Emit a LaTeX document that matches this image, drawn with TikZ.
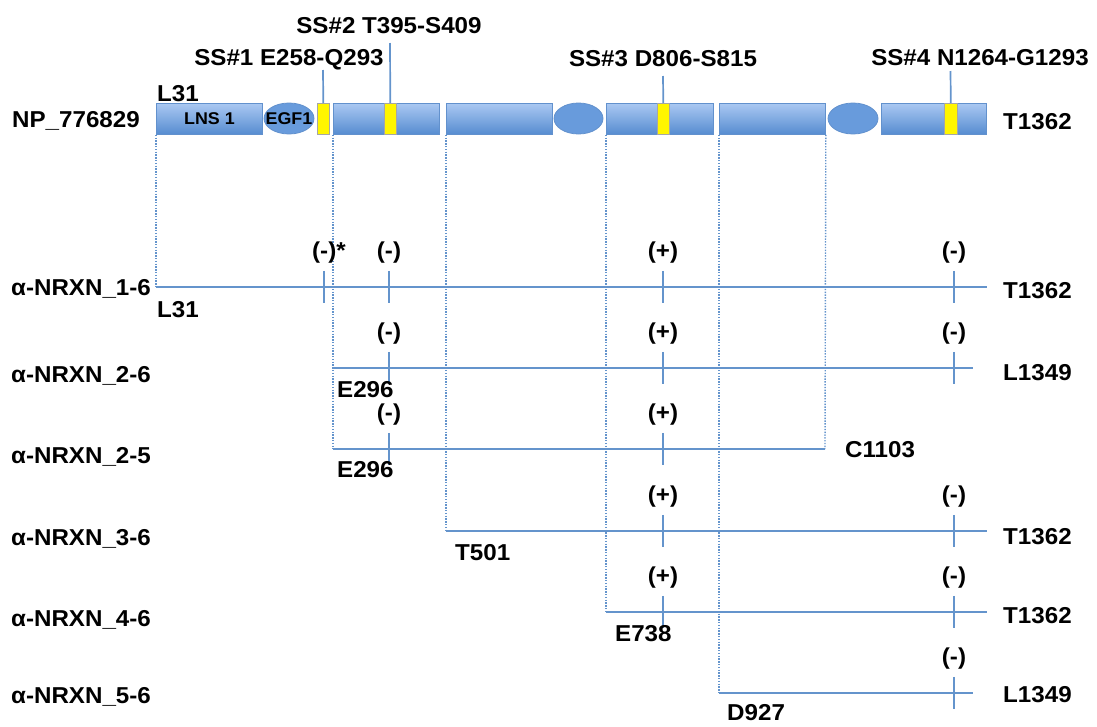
\documentclass[tikz,border=0pt]{standalone}
\usepackage{fontspec}
\setmainfont{Liberation Sans}[FakeStretch=1.05]
\usetikzlibrary{shapes.geometric}
\definecolor{domtop}{RGB}{170,200,242}
\definecolor{dombot}{RGB}{86,140,208}
\definecolor{domedge}{RGB}{98,145,205}
\definecolor{ovalfill}{RGB}{104,155,220}
\definecolor{trackblue}{RGB}{100,148,204}
\definecolor{ssyellow}{RGB}{255,246,0}
\newcommand\lblfont{\fontsize{23}{27}\selectfont\bfseries}
\newcommand\smlfont{\fontsize{17}{20}\selectfont\bfseries}
\begin{document}
\begin{tikzpicture}[x=1pt,y=-1pt,
  dom/.style={draw=domedge, line width=0.8pt, top color=domtop, bottom color=dombot,
              inner sep=0pt, minimum height=31pt, anchor=north west, font=\smlfont},
  oval/.style={ellipse, draw=domedge, line width=0.8pt, fill=ovalfill,
               inner sep=0pt, minimum width=50pt, minimum height=31pt},
  ssbox/.style={draw=black!35, line width=0.6pt, fill=ssyellow, inner sep=0pt,
                minimum height=31pt, anchor=north west},
  lbl/.style={font=\lblfont, inner sep=0pt, anchor=base west},
  sslbl/.style={font=\lblfont, inner sep=0pt, anchor=base},
  sign/.style={font=\lblfont, inner sep=0pt, anchor=base},
  inner/.style={font=\smlfont, inner sep=0pt},
  track/.style={draw=trackblue, line width=2.1pt},
  pin/.style={draw=trackblue, line width=1.7pt},
  guide/.style={draw=trackblue, line width=1.4pt, dash pattern=on 1.4pt off 1.4pt},
  splice/.style={minimum height=32pt, minimum width=0pt, inner sep=0pt}]
\useasboundingbox (0,0) rectangle (1097,726);

% ---- protein NP_776829: domains ----
\node[dom, minimum width=106pt] (b1) at (156,103) {LNS 1};
\node[oval] (e1) at (289,118.5) {};
\node[inner] (e1t) at (e1.center) {EGF1};
\node[ssbox, minimum width=12pt] (y1) at (317,103) {};
\node[dom, minimum width=106pt] (b2) at (333,103) {};
\node[ssbox, minimum width=12pt] (y2) at (384,103) {};
\node[dom, minimum width=106pt] (b3) at (446,103) {};
\node[oval, minimum width=49pt] (e2) at (578.5,118.5) {};
\node[dom, minimum width=107pt] (b4) at (606,103) {};
\node[ssbox, minimum width=12pt] (y3) at (657,103) {};
\node[dom, minimum width=106pt] (b5) at (719,103) {};
\node[oval] (e3) at (853,118.5) {};
\node[dom, minimum width=105pt] (b6) at (881,103) {};
\node[ssbox, minimum width=13pt] (y4) at (944,103) {};

\node[lbl] (np) at (12,127) {NP\_776829};
\node[lbl] (nps) at (157,101) {L31};
\node[lbl] (npe) at (1003,129) {T1362};

% splice sites
\node[sslbl] (ss1) at (289,65) {SS\#1 E258-Q293};
\node[sslbl] (ss2) at (389,33) {SS\#2 T395-S409};
\node[sslbl] (ss3) at (663,66) {SS\#3 D806-S815};
\node[sslbl] (ss4) at (980,65) {SS\#4 N1264-G1293};
\coordinate (p1) at (323,70);
\coordinate (p2) at (390,43);
\coordinate (p3) at (663,76);
\coordinate (p4) at (950.5,71);
\draw[pin] (y1.north) -- (p1);
\draw[pin] (y2.north) -- (p2);
\draw[pin] (y3.north) -- (p3);
\draw[pin] (y4.north) -- (p4);

% ---- isoforms ----
\coordinate (r1s) at (156,287); \coordinate (r1e) at (987,287);
\coordinate (r2s) at (333,368); \coordinate (r2e) at (973,368);
\coordinate (r3s) at (333,449); \coordinate (r3e) at (825,449);
\coordinate (r4s) at (446,531); \coordinate (r4e) at (987,531);
\coordinate (r5s) at (606,612); \coordinate (r5e) at (987,612);
\coordinate (r6s) at (719,693); \coordinate (r6e) at (973,693);

% dotted guides from domain boundaries
\draw[guide] (b1.south west) -- (r1s);
\draw[guide] (b2.south west) -- (r3s);
\draw[guide] (b3.south west) -- (r4s);
\draw[guide] (b4.south west) -- (r5s);
\draw[guide] (b5.south west) -- (r6s);
\draw[guide] (b5.south east) -- (r3e);

\foreach \i in {1,...,6} { \draw[track] (r\i s) -- (r\i e); }

% splice-site ticks
\foreach \n/\x/\y in {k11/324/287, k12/389/287, k13/663/287, k14/954/287,
                      k22/389/368, k23/663/368, k24/954/368,
                      k32/389/449, k33/663/449,
                      k43/663/531, k44/954/531,
                      k53/663/612, k54/954/612,
                      k64/954/693} {
  \node[splice] (\n) at (\x,\y) {};
  \draw[track] (\n.north) -- (\n.south);
}

% insert present / absent
\node[lbl] (s11) at (312,258) {(-)*};
\node[sign] (s12) at (389,258) {(-)};
\node[sign] (s13) at (663,258) {(+)};
\node[sign] (s14) at (954,258) {(-)};
\node[sign] (s22) at (389,339) {(-)};
\node[sign] (s23) at (663,339) {(+)};
\node[sign] (s24) at (954,339) {(-)};
\node[sign] (s32) at (389,420) {(-)};
\node[sign] (s33) at (663,420) {(+)};
\node[sign] (s43) at (663,502) {(+)};
\node[sign] (s44) at (954,502) {(-)};
\node[sign] (s53) at (663,583) {(+)};
\node[sign] (s54) at (954,583) {(-)};
\node[sign] (s64) at (954,664) {(-)};

% isoform names
\node[lbl] (n1) at (11,295) {α-NRXN\_1-6};
\node[lbl] (n2) at (11,382) {α-NRXN\_2-6};
\node[lbl] (n3) at (11,463) {α-NRXN\_2-5};
\node[lbl] (n4) at (11,545) {α-NRXN\_3-6};
\node[lbl] (n5) at (11,626) {α-NRXN\_4-6};
\node[lbl] (n6) at (11,703) {α-NRXN\_5-6};

% first residues
\node[lbl] (f1) at (157,317) {L31};
\node[lbl] (f2) at (337,397) {E296};
\node[lbl] (f3) at (337,477) {E296};
\node[lbl] (f4) at (455,560) {T501};
\node[lbl] (f5) at (615,641) {E738};
\node[lbl] (f6) at (727,720) {D927};

% last residues
\node[lbl] (l1) at (1003,298) {T1362};
\node[lbl] (l2) at (1003,380) {L1349};
\node[lbl] (l3) at (845,457) {C1103};
\node[lbl] (l4) at (1003,544) {T1362};
\node[lbl] (l5) at (1003,623) {T1362};
\node[lbl] (l6) at (1003,702) {L1349};
\end{tikzpicture}
\end{document}
